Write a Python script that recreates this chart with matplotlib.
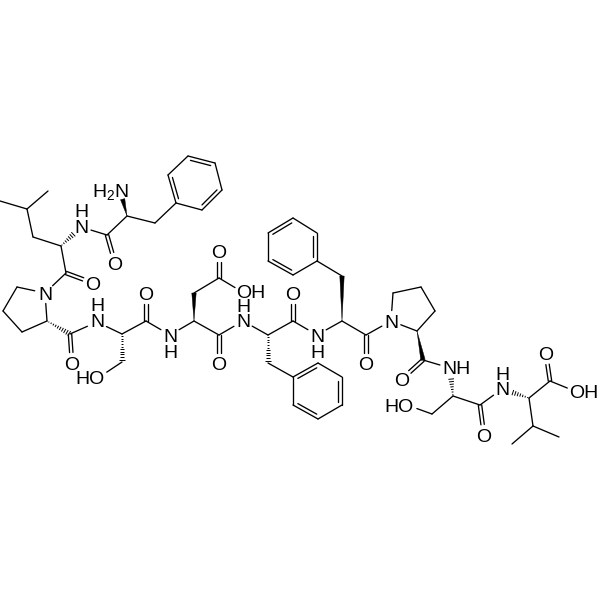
import numpy as np
import matplotlib.pyplot as plt
from matplotlib.patches import Polygon

plt.rcParams["font.family"] = ["Liberation Sans", "DejaVu Sans"]
plt.rcParams["mathtext.default"] = "regular"

# atoms, positions (pixels)
atom_names = ["me1", "leu_cg", "me2", "leu_cb", "leu_ca", "leu_n", "f1_c", "f1_o", "f1_ca", "f1_n", "f1_cb",
              "a1", "a2", "a3", "a4", "a5", "a6",
              "leu_c", "leu_o", "p1_n", "p1_d", "p1_g", "p1_b", "p1_a", "p1_c", "p1_o",
              "s1_n", "s1_a", "s1_b", "s1_og", "s1_c", "s1_o",
              "d_n", "d_a", "d_b", "d_g", "d_o1", "d_o2", "d_c", "d_o",
              "f2_n", "f2_a", "f2_b", "b1", "b2", "b3", "b4", "b5", "b6", "f2_c", "f2_o",
              "f3_n", "f3_a", "f3_b", "c1", "c2", "c3", "c4", "c5", "c6", "f3_c", "f3_o",
              "p2_n", "p2_d", "p2_g", "p2_b", "p2_a", "p2_c", "p2_o",
              "s2_n", "s2_a", "s2_b", "s2_og", "s2_c", "s2_o",
              "v_n", "v_a", "v_b", "v_g1", "v_g2", "v_c", "v_o1", "v_o2"]
atom_x = [0, 27, 48, 33, 61, 81, 107, 115, 127, 120, 155,
          176, 168, 188, 215, 222, 202,
          66, 93, 45, 17, 3, 22, 47, 70, 72,
          97, 122, 122, 98, 146, 146,
          170, 194, 194, 219, 219, 244, 219, 219,
          243, 268, 268, 293, 318, 342, 342, 318, 293, 293, 293,
          317, 342, 342, 317, 317, 293, 268, 268, 293, 366, 366,
          391, 393, 421, 435, 417, 423, 402,
          450, 453, 432, 407, 480, 484,
          502, 529, 533, 512, 559, 550, 546, 577]
atom_y = [201, 209, 191, 237, 246, 227, 235, 263, 216, 189, 223,
          203, 175, 156, 163, 190, 210,
          273, 283, 293, 287, 311, 332, 321, 334, 363,
          322, 334, 362, 378, 321, 293,
          335, 321, 293, 278, 251, 293, 335, 363,
          321, 335, 363, 377, 363, 377, 405, 419, 405, 321, 293,
          335, 321, 276, 261, 233, 218, 233, 261, 275, 335, 363,
          321, 293, 287, 311, 331, 360, 379,
          368, 396, 414, 405, 405, 435,
          389, 398, 426, 444, 437, 381, 354, 392]

# bonds by type
single_bonds = [("me1", "leu_cg"), ("leu_cg", "me2"), ("leu_cg", "leu_cb"), ("leu_cb", "leu_ca"),
                ("leu_n", "f1_c"), ("f1_c", "f1_ca"), ("f1_ca", "f1_cb"), ("f1_cb", "a1"),
                ("a2", "a3"), ("a4", "a5"), ("a6", "a1"),
                ("leu_ca", "leu_c"), ("leu_c", "p1_n"), ("p1_n", "p1_d"), ("p1_d", "p1_g"), ("p1_g", "p1_b"),
                ("p1_b", "p1_a"), ("p1_a", "p1_n"), ("p1_c", "s1_n"), ("s1_n", "s1_a"), ("s1_a", "s1_c"),
                ("s1_b", "s1_og"), ("s1_c", "d_n"), ("d_n", "d_a"), ("d_a", "d_c"), ("d_b", "d_g"),
                ("d_g", "d_o2"), ("d_c", "f2_n"), ("f2_n", "f2_a"), ("f2_a", "f2_c"), ("f2_b", "b1"),
                ("b2", "b3"), ("b4", "b5"), ("b6", "b1"), ("f2_c", "f3_n"), ("f3_n", "f3_a"), ("f3_a", "f3_c"),
                ("f3_b", "c1"), ("c2", "c3"), ("c4", "c5"), ("c6", "c1"), ("f3_c", "p2_n"), ("p2_n", "p2_d"),
                ("p2_d", "p2_g"), ("p2_g", "p2_b"), ("p2_b", "p2_a"), ("p2_a", "p2_n"), ("p2_c", "s2_n"),
                ("s2_a", "s2_c"), ("s2_a", "s2_b"), ("s2_b", "s2_og"), ("s2_c", "v_n"), ("v_a", "v_b"),
                ("v_b", "v_g1"), ("v_b", "v_g2"), ("v_a", "v_c"), ("v_c", "v_o2")]
carbonyl_bonds = [("f1_c", "f1_o"), ("leu_c", "leu_o"), ("p1_c", "p1_o"), ("s1_c", "s1_o"), ("d_g", "d_o1"),
                  ("d_c", "d_o"), ("f2_c", "f2_o"), ("f3_c", "f3_o"), ("p2_c", "p2_o"), ("s2_c", "s2_o"),
                  ("v_c", "v_o1")]
ring_double_bonds = [("a1", "a2"), ("a3", "a4"), ("a5", "a6"),
                     ("b1", "b2"), ("b3", "b4"), ("b5", "b6"),
                     ("c1", "c2"), ("c3", "c4"), ("c5", "c6")]
wedge_bonds = [("f1_ca", "f1_n"), ("d_a", "d_b"), ("f3_a", "f3_b"), ("p2_a", "p2_c")]
hash_bonds = [("leu_ca", "leu_n"), ("p1_a", "p1_c"), ("s1_a", "s1_b"), ("f2_a", "f2_b"),
              ("s2_a", "s2_n"), ("v_a", "v_n")]

# labelled atoms, the bonds stop short of these
label_atoms = ["leu_n", "f1_o", "f1_n", "leu_o", "p1_n", "p1_o", "s1_n", "s1_og", "s1_o", "d_n", "d_o1", "d_o2",
               "d_o", "f2_n", "f2_o", "f3_n", "f3_o", "p2_n", "p2_o", "s2_n", "s2_og", "s2_o", "v_n", "v_o1", "v_o2"]

label_text = ["H$_2$N", "O", "O", "N", "O", "HO", "O", "O", "OH", "O",
              "O", "O", "N", "O", "NH", "HO", "O", "O", "OH"]
label_x = [110, 115, 93, 45, 72, 90, 146, 219, 251, 219,
           293, 366, 391, 402, 457, 399, 484, 546, 584]
label_y = [189, 263, 283, 293, 363, 378, 293, 251, 292, 363,
           293, 363, 321, 379, 368, 405, 435, 354, 392]

# NH groups with the H above or below the N
stack_text = ["H\nN", "H\nN", "N\nH", "H\nN", "N\nH", "H\nN"]
stack_x = [81, 97, 170, 243, 317, 502]
stack_y = [220.5, 314.5, 345.5, 315, 345.5, 383]

pos = {n: np.array([x, y], dtype=float) for n, x, y in zip(atom_names, atom_x, atom_y)}
LW = 0.95
GAP = 10.5


def ends(a, b):
    # cut the bond back where an atom has a label
    p, q = pos[a].copy(), pos[b].copy()
    u = (q - p) / np.linalg.norm(q - p)
    if a in label_atoms:
        p = p + u * GAP
    if b in label_atoms:
        q = q - u * GAP
    return p, q, u


fig = plt.figure(figsize=(6, 6), dpi=100, facecolor="white")
ax = fig.add_axes([0, 0, 1, 1])
ax.set_xlim(0, 600)
ax.set_ylim(600, 0)
ax.axis("off")

for a, b in single_bonds:
    p, q, u = ends(a, b)
    ax.plot([p[0], q[0]], [p[1], q[1]], color="black", lw=LW, solid_capstyle="round")

# C=O drawn as two lines either side of the axis
for a, b in carbonyl_bonds:
    p, q, u = ends(a, b)
    n = np.array([-u[1], u[0]]) * 1.7
    for s in (-1, 1):
        ax.plot([p[0] + s * n[0], q[0] + s * n[0]], [p[1] + s * n[1], q[1] + s * n[1]],
                color="black", lw=LW, solid_capstyle="round")

# benzene rings: outer bond plus a shorter inner line
for a, b in ring_double_bonds:
    p, q, u = ends(a, b)
    ax.plot([p[0], q[0]], [p[1], q[1]], color="black", lw=LW, solid_capstyle="round")
    ring = [m for m in atom_names if m[0] == a[0] and len(m) == 2]
    centre = np.mean([pos[m] for m in ring], axis=0)
    mid = (p + q) / 2
    inward = (centre - mid) / np.linalg.norm(centre - mid) * 3.6
    p2 = p + inward + u * 3.5
    q2 = q + inward - u * 3.5
    ax.plot([p2[0], q2[0]], [p2[1], q2[1]], color="black", lw=LW, solid_capstyle="round")

for a, b in wedge_bonds:
    p, q, u = ends(a, b)
    n = np.array([-u[1], u[0]]) * 2.2
    ax.add_patch(Polygon([p, q + n, q - n], closed=True, facecolor="black", edgecolor="black", lw=0.3))

for a, b in hash_bonds:
    p, q, u = ends(a, b)
    n = np.array([-u[1], u[0]])
    length = np.linalg.norm(q - p)
    for t in np.arange(0.08, 1.0, 2.6 / length):
        c = p + (q - p) * t
        w = 2.6 * t + 0.3
        ax.plot([c[0] - n[0] * w, c[0] + n[0] * w], [c[1] - n[1] * w, c[1] + n[1] * w],
                color="black", lw=0.7, solid_capstyle="butt")

for t, x, y in zip(label_text, label_x, label_y):
    ax.text(x, y, t, ha="center", va="center_baseline", fontsize=14, color="black")

for t, x, y in zip(stack_text, stack_x, stack_y):
    ax.text(x, y, t, ha="center", va="center", fontsize=14, color="black", linespacing=0.9)

fig.savefig("out.png", dpi=100, facecolor="white")
